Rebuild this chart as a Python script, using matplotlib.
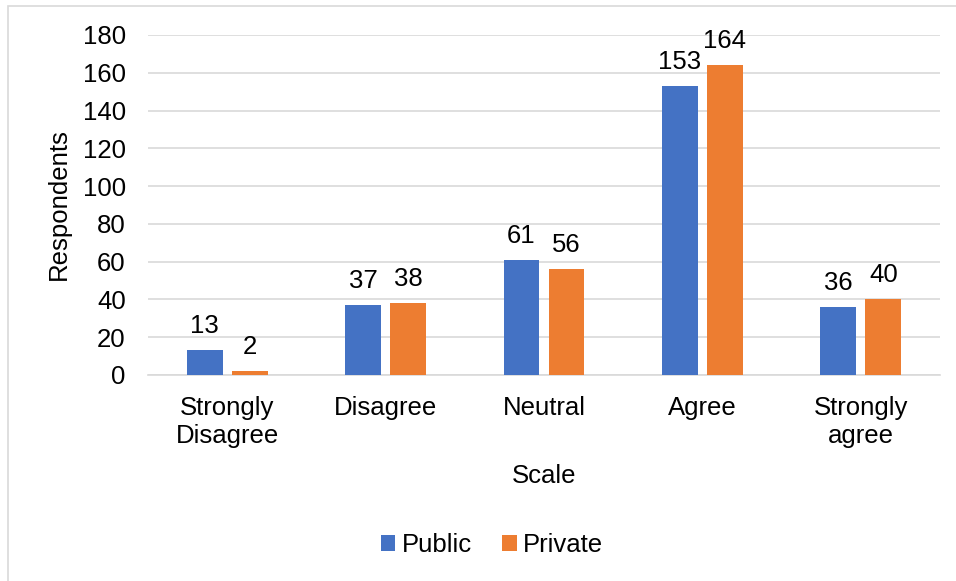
import matplotlib
matplotlib.use("Agg")
import matplotlib.pyplot as plt
import numpy as np
from matplotlib.patches import Rectangle

categories = ["Strongly\nDisagree", "Disagree", "Neutral", "Agree", "Strongly\nagree"]
public = [13, 37, 61, 153, 36]
private = [2, 38, 56, 164, 40]
yticks = [0, 20, 40, 60, 80, 100, 120, 140, 160, 180]

plt.rcParams['font.family'] = ['Liberation Sans', 'DejaVu Sans']
FS = 18.5
W, H = 956, 581
fig = plt.figure(figsize=(W/100, H/100), dpi=100)
ax = fig.add_axes([148/W, 1-375/H, (940-148)/W, (375-35)/H])

# outer border
fig.patches.append(Rectangle((8/W, -0.1), 1.2, 1.1-6/H, transform=fig.transFigure,
                             fill=False, edgecolor='#d9d9d9', linewidth=1.2))
x = np.arange(len(categories))
w = 0.227
off = 0.142
blue = '#4472c4'
orange = '#ed7d31'
b1 = ax.bar(x - off, public, w, color=blue, label='Public', zorder=3)
b2 = ax.bar(x + off, private, w, color=orange, label='Private', zorder=3)
for bars, vals in ((b1, public), (b2, private)):
    for r, v in zip(bars, vals):
        ax.annotate(str(v), (r.get_x() + r.get_width()/2, v), xytext=(0, 12.2),
                    textcoords='offset points', ha='center', va='baseline',
                    fontsize=FS, color='#000000')

ax.set_xlim(-0.5, 4.5)
ax.set_ylim(0, 180)
ax.set_yticks(yticks)
ax.set_yticklabels([str(t) for t in yticks], fontsize=FS)
ax.set_xticks(x)
ax.set_xticklabels(categories, fontsize=FS, linespacing=1.22)
ax.tick_params(axis='y', length=0, pad=16)
ax.tick_params(axis='x', length=0, pad=15)
ax.grid(axis='y', color='#d9d9d9', linewidth=1.2, zorder=0)
for s in ['top', 'right', 'left']:
    ax.spines[s].set_visible(False)
ax.spines['bottom'].set_color('#d9d9d9')
ax.spines['bottom'].set_linewidth(1.2)

fig.text(59/W, 1-204/H, 'Respondents', rotation=90, ha='center', va='center', fontsize=FS)
fig.text(544/W, 1-476/H, 'Scale', ha='center', va='center', fontsize=FS)

fig.legend(handles=[b1, b2], labels=['Public', 'Private'], loc='center',
           bbox_to_anchor=(492/W, 1-545/H), ncol=2, frameon=False, fontsize=FS,
           handlelength=0.55, handleheight=0.55, handletextpad=0.25, columnspacing=1.2)

fig.savefig('out.png', dpi=100)
